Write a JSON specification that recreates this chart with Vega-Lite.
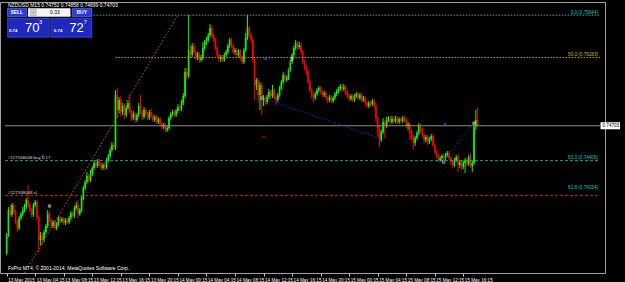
{
"$schema":"https://vega.github.io/schema/vega-lite/v6.json",
"width":605,"height":271,
"autosize":{"type":"none"},
"padding":{"left":0,"top":2,"right":20,"bottom":9},
"background":"#000000",
"config":{"view":{"stroke":"#a0a0a0","strokeWidth":1},"font":"Liberation Sans"},
"datasets":{
"candles":[
{"t":"2015-05-13T00:15","o":0.7362,"h":0.7379,"l":0.73603,"c":0.73773},
{"t":"2015-05-13T00:30","o":0.73773,"h":0.74011,"l":0.73756,"c":0.73986},
{"t":"2015-05-13T00:45","o":0.73986,"h":0.74028,"l":0.73926,"c":0.73943},
{"t":"2015-05-13T01:00","o":0.73943,"h":0.74046,"l":0.73926,"c":0.74028},
{"t":"2015-05-13T01:15","o":0.74028,"h":0.74046,"l":0.73952,"c":0.73969},
{"t":"2015-05-13T01:30","o":0.73969,"h":0.73986,"l":0.73867,"c":0.73884},
{"t":"2015-05-13T01:45","o":0.73884,"h":0.73901,"l":0.73799,"c":0.73833},
{"t":"2015-05-13T02:00","o":0.73833,"h":0.73935,"l":0.73816,"c":0.73918},
{"t":"2015-05-13T02:15","o":0.73918,"h":0.73969,"l":0.73901,"c":0.73952},
{"t":"2015-05-13T02:30","o":0.73952,"h":0.74011,"l":0.73935,"c":0.73986},
{"t":"2015-05-13T02:45","o":0.73986,"h":0.74037,"l":0.73969,"c":0.74011},
{"t":"2015-05-13T03:00","o":0.74011,"h":0.74088,"l":0.73994,"c":0.74071},
{"t":"2015-05-13T03:15","o":0.74071,"h":0.74199,"l":0.74011,"c":0.74028},
{"t":"2015-05-13T03:30","o":0.74028,"h":0.74046,"l":0.73969,"c":0.73986},
{"t":"2015-05-13T03:45","o":0.73986,"h":0.74003,"l":0.73926,"c":0.73943},
{"t":"2015-05-13T04:00","o":0.73943,"h":0.74046,"l":0.73926,"c":0.74028},
{"t":"2015-05-13T04:15","o":0.74028,"h":0.74071,"l":0.74011,"c":0.74054},
{"t":"2015-05-13T04:30","o":0.74054,"h":0.74071,"l":0.73901,"c":0.73918},
{"t":"2015-05-13T04:45","o":0.73918,"h":0.73935,"l":0.73628,"c":0.73731},
{"t":"2015-05-13T05:00","o":0.73731,"h":0.73799,"l":0.73688,"c":0.73765},
{"t":"2015-05-13T05:15","o":0.73765,"h":0.7379,"l":0.73688,"c":0.73731},
{"t":"2015-05-13T05:30","o":0.73731,"h":0.73816,"l":0.73714,"c":0.73799},
{"t":"2015-05-13T05:45","o":0.73799,"h":0.73867,"l":0.73782,"c":0.7385},
{"t":"2015-05-13T06:00","o":0.7385,"h":0.73986,"l":0.73833,"c":0.73952},
{"t":"2015-05-13T06:15","o":0.73952,"h":0.73969,"l":0.73884,"c":0.73901},
{"t":"2015-05-13T06:30","o":0.73901,"h":0.73918,"l":0.73833,"c":0.7385},
{"t":"2015-05-13T06:45","o":0.7385,"h":0.73901,"l":0.73833,"c":0.73884},
{"t":"2015-05-13T07:00","o":0.73884,"h":0.73901,"l":0.73816,"c":0.73833},
{"t":"2015-05-13T07:15","o":0.73833,"h":0.73884,"l":0.73816,"c":0.73867},
{"t":"2015-05-13T07:30","o":0.73867,"h":0.73935,"l":0.7385,"c":0.73918},
{"t":"2015-05-13T07:45","o":0.73918,"h":0.73935,"l":0.73875,"c":0.73892},
{"t":"2015-05-13T08:00","o":0.73892,"h":0.73926,"l":0.73875,"c":0.73909},
{"t":"2015-05-13T08:15","o":0.73909,"h":0.73926,"l":0.73858,"c":0.73875},
{"t":"2015-05-13T08:30","o":0.73875,"h":0.73918,"l":0.73858,"c":0.73901},
{"t":"2015-05-13T08:45","o":0.73901,"h":0.73918,"l":0.73867,"c":0.73884},
{"t":"2015-05-13T09:00","o":0.73884,"h":0.73935,"l":0.73867,"c":0.73918},
{"t":"2015-05-13T09:15","o":0.73918,"h":0.73977,"l":0.73901,"c":0.7396},
{"t":"2015-05-13T09:30","o":0.7396,"h":0.73977,"l":0.73918,"c":0.73935},
{"t":"2015-05-13T09:45","o":0.73935,"h":0.7402,"l":0.73918,"c":0.74003},
{"t":"2015-05-13T10:00","o":0.74003,"h":0.74054,"l":0.73986,"c":0.74028},
{"t":"2015-05-13T10:15","o":0.74028,"h":0.74071,"l":0.73918,"c":0.73952},
{"t":"2015-05-13T10:30","o":0.73952,"h":0.74003,"l":0.73935,"c":0.73986},
{"t":"2015-05-13T10:45","o":0.73986,"h":0.74105,"l":0.73969,"c":0.74088},
{"t":"2015-05-13T11:00","o":0.74088,"h":0.7419,"l":0.74071,"c":0.74173},
{"t":"2015-05-13T11:15","o":0.74173,"h":0.74241,"l":0.74156,"c":0.74224},
{"t":"2015-05-13T11:30","o":0.74224,"h":0.74309,"l":0.74207,"c":0.74275},
{"t":"2015-05-13T11:45","o":0.74275,"h":0.74292,"l":0.74216,"c":0.74241},
{"t":"2015-05-13T12:00","o":0.74241,"h":0.74326,"l":0.74224,"c":0.74292},
{"t":"2015-05-13T12:15","o":0.74292,"h":0.7436,"l":0.74275,"c":0.74343},
{"t":"2015-05-13T12:30","o":0.74343,"h":0.74411,"l":0.74326,"c":0.74386},
{"t":"2015-05-13T12:45","o":0.74386,"h":0.74403,"l":0.74343,"c":0.7436},
{"t":"2015-05-13T13:00","o":0.7436,"h":0.7442,"l":0.74343,"c":0.74403},
{"t":"2015-05-13T13:15","o":0.74403,"h":0.7442,"l":0.7436,"c":0.74377},
{"t":"2015-05-13T13:30","o":0.74377,"h":0.74394,"l":0.74326,"c":0.74343},
{"t":"2015-05-13T13:45","o":0.74343,"h":0.74386,"l":0.74326,"c":0.74369},
{"t":"2015-05-13T14:00","o":0.74369,"h":0.74394,"l":0.74326,"c":0.74352},
{"t":"2015-05-13T14:15","o":0.74352,"h":0.74428,"l":0.74335,"c":0.74411},
{"t":"2015-05-13T14:30","o":0.74411,"h":0.74463,"l":0.74394,"c":0.74445},
{"t":"2015-05-13T14:45","o":0.74445,"h":0.74514,"l":0.74428,"c":0.74497},
{"t":"2015-05-13T15:00","o":0.74497,"h":0.74565,"l":0.7448,"c":0.74539},
{"t":"2015-05-13T15:15","o":0.74539,"h":0.74556,"l":0.74497,"c":0.74514},
{"t":"2015-05-13T15:30","o":0.74514,"h":0.75007,"l":0.74497,"c":0.74965},
{"t":"2015-05-13T15:45","o":0.74965,"h":0.75024,"l":0.74769,"c":0.74837},
{"t":"2015-05-13T16:00","o":0.74837,"h":0.74948,"l":0.74811,"c":0.74922},
{"t":"2015-05-13T16:15","o":0.74922,"h":0.74956,"l":0.74786,"c":0.7482},
{"t":"2015-05-13T16:30","o":0.7482,"h":0.74897,"l":0.74794,"c":0.74871},
{"t":"2015-05-13T16:45","o":0.74871,"h":0.74888,"l":0.7476,"c":0.74794},
{"t":"2015-05-13T17:00","o":0.74794,"h":0.74879,"l":0.74777,"c":0.74854},
{"t":"2015-05-13T17:15","o":0.74854,"h":0.74922,"l":0.74837,"c":0.74897},
{"t":"2015-05-13T17:30","o":0.74897,"h":0.74965,"l":0.74803,"c":0.7482},
{"t":"2015-05-13T17:45","o":0.7482,"h":0.74837,"l":0.74743,"c":0.74769},
{"t":"2015-05-13T18:00","o":0.74769,"h":0.74828,"l":0.74752,"c":0.74803},
{"t":"2015-05-13T18:15","o":0.74803,"h":0.7482,"l":0.74726,"c":0.74752},
{"t":"2015-05-13T18:30","o":0.74752,"h":0.74811,"l":0.74735,"c":0.74794},
{"t":"2015-05-13T18:45","o":0.74794,"h":0.74897,"l":0.74777,"c":0.74871},
{"t":"2015-05-13T19:00","o":0.74871,"h":0.74965,"l":0.74803,"c":0.7482},
{"t":"2015-05-13T19:15","o":0.7482,"h":0.74837,"l":0.74752,"c":0.74777},
{"t":"2015-05-13T19:30","o":0.74777,"h":0.74862,"l":0.7476,"c":0.74837},
{"t":"2015-05-13T19:45","o":0.74837,"h":0.74854,"l":0.74786,"c":0.74803},
{"t":"2015-05-13T20:00","o":0.74803,"h":0.7482,"l":0.74752,"c":0.74769},
{"t":"2015-05-13T20:15","o":0.74769,"h":0.74837,"l":0.74752,"c":0.7482},
{"t":"2015-05-13T20:30","o":0.7482,"h":0.74845,"l":0.74769,"c":0.74786},
{"t":"2015-05-13T20:45","o":0.74786,"h":0.74803,"l":0.74735,"c":0.74752},
{"t":"2015-05-13T21:00","o":0.74752,"h":0.74794,"l":0.74735,"c":0.74777},
{"t":"2015-05-13T21:15","o":0.74777,"h":0.74794,"l":0.74718,"c":0.74735},
{"t":"2015-05-13T21:30","o":0.74735,"h":0.74777,"l":0.74718,"c":0.7476},
{"t":"2015-05-13T21:45","o":0.7476,"h":0.74777,"l":0.74701,"c":0.74718},
{"t":"2015-05-13T22:00","o":0.74718,"h":0.74735,"l":0.74675,"c":0.74692},
{"t":"2015-05-13T22:15","o":0.74692,"h":0.74726,"l":0.74675,"c":0.74709},
{"t":"2015-05-13T22:30","o":0.74709,"h":0.74726,"l":0.7465,"c":0.74667},
{"t":"2015-05-13T22:45","o":0.74667,"h":0.74701,"l":0.7465,"c":0.74684},
{"t":"2015-05-13T23:00","o":0.74684,"h":0.74786,"l":0.74667,"c":0.74769},
{"t":"2015-05-13T23:15","o":0.74769,"h":0.7482,"l":0.74752,"c":0.74803},
{"t":"2015-05-13T23:30","o":0.74803,"h":0.74837,"l":0.74786,"c":0.7482},
{"t":"2015-05-13T23:45","o":0.7482,"h":0.74837,"l":0.74777,"c":0.74794},
{"t":"2015-05-14T00:00","o":0.74794,"h":0.74845,"l":0.74777,"c":0.74828},
{"t":"2015-05-14T00:15","o":0.74828,"h":0.74888,"l":0.74811,"c":0.74862},
{"t":"2015-05-14T00:30","o":0.74862,"h":0.74879,"l":0.74828,"c":0.74845},
{"t":"2015-05-14T00:45","o":0.74845,"h":0.74922,"l":0.74828,"c":0.74897},
{"t":"2015-05-14T01:00","o":0.74897,"h":0.74982,"l":0.74879,"c":0.74956},
{"t":"2015-05-14T01:15","o":0.74956,"h":0.75194,"l":0.74939,"c":0.7516},
{"t":"2015-05-14T01:30","o":0.7516,"h":0.75194,"l":0.75092,"c":0.75126},
{"t":"2015-05-14T01:45","o":0.75126,"h":0.75645,"l":0.75109,"c":0.75348},
{"t":"2015-05-14T02:00","o":0.75348,"h":0.7539,"l":0.75279,"c":0.75305},
{"t":"2015-05-14T02:15","o":0.75305,"h":0.75407,"l":0.75288,"c":0.75382},
{"t":"2015-05-14T02:30","o":0.75382,"h":0.75407,"l":0.75313,"c":0.75331},
{"t":"2015-05-14T02:45","o":0.75331,"h":0.75348,"l":0.75262,"c":0.75279},
{"t":"2015-05-14T03:00","o":0.75279,"h":0.75331,"l":0.75262,"c":0.75313},
{"t":"2015-05-14T03:15","o":0.75313,"h":0.75331,"l":0.75237,"c":0.75262},
{"t":"2015-05-14T03:30","o":0.75262,"h":0.75305,"l":0.75245,"c":0.75279},
{"t":"2015-05-14T03:45","o":0.75279,"h":0.75416,"l":0.75262,"c":0.75365},
{"t":"2015-05-14T04:00","o":0.75365,"h":0.75433,"l":0.75348,"c":0.75416},
{"t":"2015-05-14T04:15","o":0.75416,"h":0.75458,"l":0.7539,"c":0.75433},
{"t":"2015-05-14T04:30","o":0.75433,"h":0.75492,"l":0.75416,"c":0.75475},
{"t":"2015-05-14T04:45","o":0.75475,"h":0.75569,"l":0.75458,"c":0.75535},
{"t":"2015-05-14T05:00","o":0.75535,"h":0.7556,"l":0.7545,"c":0.75467},
{"t":"2015-05-14T05:15","o":0.75467,"h":0.75484,"l":0.75416,"c":0.75433},
{"t":"2015-05-14T05:30","o":0.75433,"h":0.7545,"l":0.75348,"c":0.75365},
{"t":"2015-05-14T05:45","o":0.75365,"h":0.75382,"l":0.75288,"c":0.75305},
{"t":"2015-05-14T06:00","o":0.75305,"h":0.75322,"l":0.75254,"c":0.75271},
{"t":"2015-05-14T06:15","o":0.75271,"h":0.75305,"l":0.75245,"c":0.75288},
{"t":"2015-05-14T06:30","o":0.75288,"h":0.75305,"l":0.75245,"c":0.75262},
{"t":"2015-05-14T06:45","o":0.75262,"h":0.75322,"l":0.75245,"c":0.75305},
{"t":"2015-05-14T07:00","o":0.75305,"h":0.75348,"l":0.75288,"c":0.75331},
{"t":"2015-05-14T07:15","o":0.75331,"h":0.75399,"l":0.75313,"c":0.75382},
{"t":"2015-05-14T07:30","o":0.75382,"h":0.7545,"l":0.75365,"c":0.75433},
{"t":"2015-05-14T07:45","o":0.75433,"h":0.7545,"l":0.75365,"c":0.75382},
{"t":"2015-05-14T08:00","o":0.75382,"h":0.75399,"l":0.75313,"c":0.75331},
{"t":"2015-05-14T08:15","o":0.75331,"h":0.75365,"l":0.75305,"c":0.75348},
{"t":"2015-05-14T08:30","o":0.75348,"h":0.75365,"l":0.75288,"c":0.75305},
{"t":"2015-05-14T08:45","o":0.75305,"h":0.75356,"l":0.75288,"c":0.75339},
{"t":"2015-05-14T09:00","o":0.75339,"h":0.75356,"l":0.75262,"c":0.75279},
{"t":"2015-05-14T09:15","o":0.75279,"h":0.75296,"l":0.75228,"c":0.75245},
{"t":"2015-05-14T09:30","o":0.75245,"h":0.75365,"l":0.75228,"c":0.75348},
{"t":"2015-05-14T09:45","o":0.75348,"h":0.75492,"l":0.75331,"c":0.7545},
{"t":"2015-05-14T10:00","o":0.7545,"h":0.75645,"l":0.75433,"c":0.75535},
{"t":"2015-05-14T10:15","o":0.75535,"h":0.75552,"l":0.75458,"c":0.75475},
{"t":"2015-05-14T10:30","o":0.75475,"h":0.75492,"l":0.75407,"c":0.75433},
{"t":"2015-05-14T10:45","o":0.75433,"h":0.7545,"l":0.75237,"c":0.75262},
{"t":"2015-05-14T11:00","o":0.75262,"h":0.75279,"l":0.74922,"c":0.7505},
{"t":"2015-05-14T11:15","o":0.7505,"h":0.75109,"l":0.75007,"c":0.75092},
{"t":"2015-05-14T11:30","o":0.75092,"h":0.75109,"l":0.74905,"c":0.74965},
{"t":"2015-05-14T11:45","o":0.74965,"h":0.75075,"l":0.74837,"c":0.7505},
{"t":"2015-05-14T12:00","o":0.7505,"h":0.75067,"l":0.74794,"c":0.74922},
{"t":"2015-05-14T12:15","o":0.74922,"h":0.74965,"l":0.74871,"c":0.74939},
{"t":"2015-05-14T12:30","o":0.74939,"h":0.74956,"l":0.74879,"c":0.74905},
{"t":"2015-05-14T12:45","o":0.74905,"h":0.74965,"l":0.74888,"c":0.74948},
{"t":"2015-05-14T13:00","o":0.74948,"h":0.75016,"l":0.74931,"c":0.7499},
{"t":"2015-05-14T13:15","o":0.7499,"h":0.75007,"l":0.74931,"c":0.74956},
{"t":"2015-05-14T13:30","o":0.74956,"h":0.7505,"l":0.74939,"c":0.75007},
{"t":"2015-05-14T13:45","o":0.75007,"h":0.75024,"l":0.74931,"c":0.74948},
{"t":"2015-05-14T14:00","o":0.74948,"h":0.74965,"l":0.74879,"c":0.74922},
{"t":"2015-05-14T14:15","o":0.74922,"h":0.74982,"l":0.74905,"c":0.74965},
{"t":"2015-05-14T14:30","o":0.74965,"h":0.75041,"l":0.74948,"c":0.75024},
{"t":"2015-05-14T14:45","o":0.75024,"h":0.75092,"l":0.75007,"c":0.75075},
{"t":"2015-05-14T15:00","o":0.75075,"h":0.7516,"l":0.75058,"c":0.75135},
{"t":"2015-05-14T15:15","o":0.75135,"h":0.75152,"l":0.75075,"c":0.75092},
{"t":"2015-05-14T15:30","o":0.75092,"h":0.75135,"l":0.75075,"c":0.75118},
{"t":"2015-05-14T15:45","o":0.75118,"h":0.75194,"l":0.75092,"c":0.75177},
{"t":"2015-05-14T16:00","o":0.75177,"h":0.75262,"l":0.7516,"c":0.75245},
{"t":"2015-05-14T16:15","o":0.75245,"h":0.75322,"l":0.75228,"c":0.75305},
{"t":"2015-05-14T16:30","o":0.75305,"h":0.75382,"l":0.75288,"c":0.75365},
{"t":"2015-05-14T16:45","o":0.75365,"h":0.75433,"l":0.75348,"c":0.75407},
{"t":"2015-05-14T17:00","o":0.75407,"h":0.75424,"l":0.75348,"c":0.75373},
{"t":"2015-05-14T17:15","o":0.75373,"h":0.75416,"l":0.75356,"c":0.7539},
{"t":"2015-05-14T17:30","o":0.7539,"h":0.75407,"l":0.75313,"c":0.75331},
{"t":"2015-05-14T17:45","o":0.75331,"h":0.75348,"l":0.75228,"c":0.75245},
{"t":"2015-05-14T18:00","o":0.75245,"h":0.75262,"l":0.75177,"c":0.75194},
{"t":"2015-05-14T18:15","o":0.75194,"h":0.7522,"l":0.75135,"c":0.7516},
{"t":"2015-05-14T18:30","o":0.7516,"h":0.75177,"l":0.75058,"c":0.75075},
{"t":"2015-05-14T18:45","o":0.75075,"h":0.75092,"l":0.7499,"c":0.75007},
{"t":"2015-05-14T19:00","o":0.75007,"h":0.75024,"l":0.74939,"c":0.74965},
{"t":"2015-05-14T19:15","o":0.74965,"h":0.74982,"l":0.74905,"c":0.74939},
{"t":"2015-05-14T19:30","o":0.74939,"h":0.7499,"l":0.74922,"c":0.74973},
{"t":"2015-05-14T19:45","o":0.74973,"h":0.75024,"l":0.74956,"c":0.75007},
{"t":"2015-05-14T20:00","o":0.75007,"h":0.75041,"l":0.7499,"c":0.75024},
{"t":"2015-05-14T20:15","o":0.75024,"h":0.75041,"l":0.74973,"c":0.7499},
{"t":"2015-05-14T20:30","o":0.7499,"h":0.75007,"l":0.74948,"c":0.74965},
{"t":"2015-05-14T20:45","o":0.74965,"h":0.74999,"l":0.74948,"c":0.74982},
{"t":"2015-05-14T21:00","o":0.74982,"h":0.74999,"l":0.74922,"c":0.74939},
{"t":"2015-05-14T21:15","o":0.74939,"h":0.74956,"l":0.74897,"c":0.74922},
{"t":"2015-05-14T21:30","o":0.74922,"h":0.74965,"l":0.74905,"c":0.74948},
{"t":"2015-05-14T21:45","o":0.74948,"h":0.74965,"l":0.74897,"c":0.74914},
{"t":"2015-05-14T22:00","o":0.74914,"h":0.74956,"l":0.74897,"c":0.74939},
{"t":"2015-05-14T22:15","o":0.74939,"h":0.7499,"l":0.74922,"c":0.74973},
{"t":"2015-05-14T22:30","o":0.74973,"h":0.75016,"l":0.74956,"c":0.74999},
{"t":"2015-05-14T22:45","o":0.74999,"h":0.75033,"l":0.74982,"c":0.75016},
{"t":"2015-05-14T23:00","o":0.75016,"h":0.75058,"l":0.74999,"c":0.75041},
{"t":"2015-05-14T23:15","o":0.75041,"h":0.75058,"l":0.74999,"c":0.75016},
{"t":"2015-05-14T23:30","o":0.75016,"h":0.75058,"l":0.74999,"c":0.75033},
{"t":"2015-05-14T23:45","o":0.75033,"h":0.7505,"l":0.74965,"c":0.74982},
{"t":"2015-05-15T00:00","o":0.74982,"h":0.74999,"l":0.74939,"c":0.74956},
{"t":"2015-05-15T00:15","o":0.74956,"h":0.74973,"l":0.74914,"c":0.74931},
{"t":"2015-05-15T00:30","o":0.74931,"h":0.74973,"l":0.74914,"c":0.74956},
{"t":"2015-05-15T00:45","o":0.74956,"h":0.74973,"l":0.74905,"c":0.74922},
{"t":"2015-05-15T01:00","o":0.74922,"h":0.74973,"l":0.74905,"c":0.74956},
{"t":"2015-05-15T01:15","o":0.74956,"h":0.7499,"l":0.74939,"c":0.74973},
{"t":"2015-05-15T01:30","o":0.74973,"h":0.7499,"l":0.74922,"c":0.74939},
{"t":"2015-05-15T01:45","o":0.74939,"h":0.74982,"l":0.74922,"c":0.74965},
{"t":"2015-05-15T02:00","o":0.74965,"h":0.74982,"l":0.74905,"c":0.74922},
{"t":"2015-05-15T02:15","o":0.74922,"h":0.74956,"l":0.74905,"c":0.74939},
{"t":"2015-05-15T02:30","o":0.74939,"h":0.74956,"l":0.74879,"c":0.74897},
{"t":"2015-05-15T02:45","o":0.74897,"h":0.74914,"l":0.74854,"c":0.74871},
{"t":"2015-05-15T03:00","o":0.74871,"h":0.74914,"l":0.74854,"c":0.74897},
{"t":"2015-05-15T03:15","o":0.74897,"h":0.74914,"l":0.74862,"c":0.74888},
{"t":"2015-05-15T03:30","o":0.74888,"h":0.74931,"l":0.74871,"c":0.74914},
{"t":"2015-05-15T03:45","o":0.74914,"h":0.74931,"l":0.74854,"c":0.74871},
{"t":"2015-05-15T04:00","o":0.74871,"h":0.74897,"l":0.74735,"c":0.74769},
{"t":"2015-05-15T04:15","o":0.74769,"h":0.74786,"l":0.74607,"c":0.74684},
{"t":"2015-05-15T04:30","o":0.74684,"h":0.74701,"l":0.74522,"c":0.74582},
{"t":"2015-05-15T04:45","o":0.74582,"h":0.74667,"l":0.74565,"c":0.7465},
{"t":"2015-05-15T05:00","o":0.7465,"h":0.74769,"l":0.74633,"c":0.74735},
{"t":"2015-05-15T05:15","o":0.74735,"h":0.74752,"l":0.74599,"c":0.74701},
{"t":"2015-05-15T05:30","o":0.74701,"h":0.74777,"l":0.74684,"c":0.74752},
{"t":"2015-05-15T05:45","o":0.74752,"h":0.74786,"l":0.74735,"c":0.74769},
{"t":"2015-05-15T06:00","o":0.74769,"h":0.74786,"l":0.74718,"c":0.74735},
{"t":"2015-05-15T06:15","o":0.74735,"h":0.74786,"l":0.74718,"c":0.7476},
{"t":"2015-05-15T06:30","o":0.7476,"h":0.74777,"l":0.74726,"c":0.74743},
{"t":"2015-05-15T06:45","o":0.74743,"h":0.74786,"l":0.74726,"c":0.74769},
{"t":"2015-05-15T07:00","o":0.74769,"h":0.74786,"l":0.74718,"c":0.74735},
{"t":"2015-05-15T07:15","o":0.74735,"h":0.74777,"l":0.74718,"c":0.7476},
{"t":"2015-05-15T07:30","o":0.7476,"h":0.74777,"l":0.74726,"c":0.74743},
{"t":"2015-05-15T07:45","o":0.74743,"h":0.74786,"l":0.74726,"c":0.74769},
{"t":"2015-05-15T08:00","o":0.74769,"h":0.74786,"l":0.74735,"c":0.74752},
{"t":"2015-05-15T08:15","o":0.74752,"h":0.74769,"l":0.74684,"c":0.74701},
{"t":"2015-05-15T08:30","o":0.74701,"h":0.74735,"l":0.74667,"c":0.74718},
{"t":"2015-05-15T08:45","o":0.74718,"h":0.74735,"l":0.74582,"c":0.7465},
{"t":"2015-05-15T09:00","o":0.7465,"h":0.74667,"l":0.74582,"c":0.74607},
{"t":"2015-05-15T09:15","o":0.74607,"h":0.74624,"l":0.74505,"c":0.74556},
{"t":"2015-05-15T09:30","o":0.74556,"h":0.74616,"l":0.74531,"c":0.74599},
{"t":"2015-05-15T09:45","o":0.74599,"h":0.74658,"l":0.74582,"c":0.74641},
{"t":"2015-05-15T10:00","o":0.74641,"h":0.74726,"l":0.74624,"c":0.74701},
{"t":"2015-05-15T10:15","o":0.74701,"h":0.74718,"l":0.7465,"c":0.74667},
{"t":"2015-05-15T10:30","o":0.74667,"h":0.74684,"l":0.74599,"c":0.74624},
{"t":"2015-05-15T10:45","o":0.74624,"h":0.74641,"l":0.74556,"c":0.74582},
{"t":"2015-05-15T11:00","o":0.74582,"h":0.74624,"l":0.74565,"c":0.74607},
{"t":"2015-05-15T11:15","o":0.74607,"h":0.74624,"l":0.74539,"c":0.74565},
{"t":"2015-05-15T11:30","o":0.74565,"h":0.74607,"l":0.74548,"c":0.7459},
{"t":"2015-05-15T11:45","o":0.7459,"h":0.74633,"l":0.74573,"c":0.74616},
{"t":"2015-05-15T12:00","o":0.74616,"h":0.74633,"l":0.74522,"c":0.74539},
{"t":"2015-05-15T12:15","o":0.74539,"h":0.74556,"l":0.74463,"c":0.7448},
{"t":"2015-05-15T12:30","o":0.7448,"h":0.74497,"l":0.74428,"c":0.74445},
{"t":"2015-05-15T12:45","o":0.74445,"h":0.74463,"l":0.74394,"c":0.74411},
{"t":"2015-05-15T13:00","o":0.74411,"h":0.74445,"l":0.74394,"c":0.74428},
{"t":"2015-05-15T13:15","o":0.74428,"h":0.74463,"l":0.74403,"c":0.74445},
{"t":"2015-05-15T13:30","o":0.74445,"h":0.74463,"l":0.74411,"c":0.74428},
{"t":"2015-05-15T13:45","o":0.74428,"h":0.74471,"l":0.74411,"c":0.74454},
{"t":"2015-05-15T14:00","o":0.74454,"h":0.74488,"l":0.74437,"c":0.74471},
{"t":"2015-05-15T14:15","o":0.74471,"h":0.74488,"l":0.74411,"c":0.74428},
{"t":"2015-05-15T14:30","o":0.74428,"h":0.74445,"l":0.74369,"c":0.74394},
{"t":"2015-05-15T14:45","o":0.74394,"h":0.74411,"l":0.74343,"c":0.74369},
{"t":"2015-05-15T15:00","o":0.74369,"h":0.74428,"l":0.74352,"c":0.74411},
{"t":"2015-05-15T15:15","o":0.74411,"h":0.74454,"l":0.74394,"c":0.74437},
{"t":"2015-05-15T15:30","o":0.74437,"h":0.74463,"l":0.74309,"c":0.74369},
{"t":"2015-05-15T15:45","o":0.74369,"h":0.74411,"l":0.74343,"c":0.74394},
{"t":"2015-05-15T16:00","o":0.74394,"h":0.74411,"l":0.74326,"c":0.74352},
{"t":"2015-05-15T16:15","o":0.74352,"h":0.74403,"l":0.74335,"c":0.74386},
{"t":"2015-05-15T16:30","o":0.74386,"h":0.74428,"l":0.74301,"c":0.74411},
{"t":"2015-05-15T16:45","o":0.74411,"h":0.74428,"l":0.7436,"c":0.74377},
{"t":"2015-05-15T17:00","o":0.74377,"h":0.74454,"l":0.7436,"c":0.74437},
{"t":"2015-05-15T17:15","o":0.74437,"h":0.74471,"l":0.74343,"c":0.7436},
{"t":"2015-05-15T17:30","o":0.7436,"h":0.74403,"l":0.74309,"c":0.74386},
{"t":"2015-05-15T17:45","o":0.74386,"h":0.74718,"l":0.74369,"c":0.74692},
{"t":"2015-05-15T18:00","o":0.74692,"h":0.74837,"l":0.74667,"c":0.74752},
{"t":"2015-05-15T18:15","o":0.74752,"h":0.74858,"l":0.74699,"c":0.74703}
]
},
"encoding":{
"x":{"field":"t","type":"temporal","title":null,
 "scale":{"domain":[{"year":2015,"month":5,"date":13,"hours":0,"minutes":1},{"year":2015,"month":5,"date":16,"hours":11,"minutes":24}]},
 "axis":{"values":[
  {"year":2015,"month":5,"date":13,"hours":0,"minutes":15},{"year":2015,"month":5,"date":13,"hours":4,"minutes":15},{"year":2015,"month":5,"date":13,"hours":8,"minutes":15},{"year":2015,"month":5,"date":13,"hours":12,"minutes":15},{"year":2015,"month":5,"date":13,"hours":16,"minutes":15},{"year":2015,"month":5,"date":13,"hours":20,"minutes":15},
  {"year":2015,"month":5,"date":14,"hours":0,"minutes":15},{"year":2015,"month":5,"date":14,"hours":4,"minutes":15},{"year":2015,"month":5,"date":14,"hours":8,"minutes":15},{"year":2015,"month":5,"date":14,"hours":12,"minutes":15},{"year":2015,"month":5,"date":14,"hours":16,"minutes":15},{"year":2015,"month":5,"date":14,"hours":20,"minutes":15},
  {"year":2015,"month":5,"date":15,"hours":0,"minutes":15},{"year":2015,"month":5,"date":15,"hours":4,"minutes":15},{"year":2015,"month":5,"date":15,"hours":8,"minutes":15},{"year":2015,"month":5,"date":15,"hours":12,"minutes":15},{"year":2015,"month":5,"date":15,"hours":16,"minutes":15}],
  "labelExpr":"datum.value < datetime(2015,4,13,1,0) ? '13 May 2015' : timeFormat(datum.value, '%d %b %H:%M')",
  "labelAlign":"left","labelBaseline":"top","labelFontSize":4.6,"labelColor":"#ffffff","labelPadding":1,"labelOffset":1,
  "tickColor":"#c0c0c0","tickSize":3,"domain":false,"grid":false,"labelOverlap":false,"labelFlush":false,"labelBound":false}},
"y":{"field":"p","type":"quantitative","title":null,
 "scale":{"domain":[0.7345,0.75756],"zero":false,"nice":false},
 "axis":{"orient":"right","values":[0.7346,0.7359,0.7372,0.7385,0.7398,0.7411,0.7424,0.7437,0.745,0.7463,0.7476,0.7489,0.7502,0.7515,0.7528,0.75405,0.75535,0.75665],
  "format":".5f","labelFontSize":4.6,"labelColor":"#ffffff","tickColor":"#c0c0c0","tickSize":2,"labelPadding":1,
  "domain":false,"grid":false,"labelOverlap":false,"labelFlush":false,"labelBound":false}}
},
"layer":[
{"data":{"name":"candles"},"mark":{"type":"rule","strokeWidth":1},
 "encoding":{"y":{"field":"l","type":"quantitative","axis":null},"y2":{"field":"h"},
  "color":{"condition":{"test":"datum.c >= datum.o","value":"#00ff00"},"value":"#ff0000"}}},
{"data":{"name":"candles"},"mark":{"type":"bar","size":1.6},
 "encoding":{"y":{"field":"o","type":"quantitative","axis":null},"y2":{"field":"c"},
  "color":{"condition":{"test":"datum.c >= datum.o","value":"#00ff00"},"value":"#ff0000"}}},
{"data":{"values":[{"t":"2015-05-13T02:45","p":0.7345},{"t":"2015-05-14T00:15","p":0.75644}]},
 "mark":{"type":"line","color":"#c84a3c","strokeDash":[1.5,2],"strokeWidth":1}},
{"data":{"values":[{"t":"2015-05-13T02:45","t2":"2015-05-16T11:24","p":0.75644}]},
 "mark":{"type":"rule","color":"#1ab4b4","strokeDash":[1.5,1.5],"strokeWidth":1},
 "encoding":{"x2":{"field":"t2"}}},
{"data":{"values":[{"t":"2015-05-13T15:30","t2":"2015-05-16T11:24","p":0.75283}]},
 "mark":{"type":"rule","color":"#b4a414","strokeDash":[1.5,1.5],"strokeWidth":1},
 "encoding":{"x2":{"field":"t2"}}},
{"data":{"values":[{"t":"2015-05-13T00:01","t2":"2015-05-16T11:24","p":0.74703}]},
 "mark":{"type":"rule","color":"#8c8c8c","strokeWidth":1.2},
 "encoding":{"x2":{"field":"t2"}}},
{"data":{"values":[{"t":"2015-05-13T00:01","t2":"2015-05-16T11:24","p":0.74406}]},
 "mark":{"type":"rule","color":"#1f9f8f","strokeDash":[3,2],"strokeWidth":1},
 "encoding":{"x2":{"field":"t2"}}},
{"data":{"values":[{"t":"2015-05-13T00:01","t2":"2015-05-16T11:24","p":0.7411}]},
 "mark":{"type":"rule","color":"#d01414","strokeDash":[3,2],"strokeWidth":1},
 "encoding":{"x2":{"field":"t2"}}},
{"data":{"values":[
 {"id":"a","t":"2015-05-14T12:00","p":0.74939},{"id":"a","t":"2015-05-15T04:00","p":0.74607},
 {"id":"b","t":"2015-05-14T14:15","p":0.74897},{"id":"b","t":"2015-05-14T16:15","p":0.75271},
 {"id":"c","t":"2015-05-15T13:30","p":0.74406},{"id":"c","t":"2015-05-15T17:45","p":0.74726}]},
 "mark":{"type":"line","color":"#2222d8","strokeDash":[1.5,2],"strokeWidth":1},
 "encoding":{"detail":{"field":"id"}}},
{"data":{"values":[
 {"t":"2015-05-14T12:15","t2":"2015-05-14T12:45","p":0.75271},
 {"t":"2015-05-15T13:30","t2":"2015-05-15T13:52","p":0.74718},
 {"t":"2015-05-13T05:06","t2":"2015-05-13T05:30","p":0.74445}]},
 "mark":{"type":"rule","color":"#2a3aff","strokeWidth":1.5},
 "encoding":{"x2":{"field":"t2"}}},
{"data":{"values":[
 {"t":"2015-05-14T12:00","t2":"2015-05-14T12:30","p":0.74607},
 {"t":"2015-05-13T05:06","t2":"2015-05-13T05:30","p":0.73509}]},
 "mark":{"type":"rule","color":"#b00000","strokeWidth":1.5},
 "encoding":{"x2":{"field":"t2"}}},
{"data":{"values":[{"t":"2015-05-14T12:00","p":0.74939},{"t":"2015-05-15T13:30","p":0.74394}]},
 "mark":{"type":"point","shape":"square","filled":true,"size":6,"color":"#3050ff","stroke":"#ffffff","strokeWidth":0.6}},
{"data":{"values":[{"t":"2015-05-14T16:15","p":0.75271},{"t":"2015-05-15T17:45","p":0.74726},{"t":"2015-05-13T06:15","p":0.7402}]},
 "mark":{"type":"point","shape":"square","filled":true,"size":6,"color":"#f0a030","stroke":"#ffffff","strokeWidth":0.6}},
{"data":{"values":[
 {"t":"2015-05-16T11:24","p":0.75644,"label":"0.0 (0.75644)"},
 {"t":"2015-05-16T11:24","p":0.74406,"label":"50.0 (0.74406)"},
 {"t":"2015-05-16T11:24","p":0.74154,"label":"61.8 (0.74154)"}]},
 "mark":{"type":"text","align":"right","baseline":"bottom","dx":-2,"dy":-0.5,"fontSize":4.6,"color":"#1ec8c8"},
 "encoding":{"text":{"field":"label"}}},
{"data":{"values":[{"t":"2015-05-16T11:24","p":0.75283,"label":"50.0 (0.75283)"}]},
 "mark":{"type":"text","align":"right","baseline":"bottom","dx":-2,"dy":-0.5,"fontSize":4.6,"color":"#c8b414"},
 "encoding":{"text":{"field":"label"}}},
{"data":{"values":[
 {"t":"2015-05-13T00:26","p":0.74406,"label":"#127558048 buy 0.17"},
 {"t":"2015-05-13T00:26","p":0.7411,"label":"#127558048 sl"}]},
 "mark":{"type":"text","align":"left","baseline":"bottom","dy":-0.5,"fontSize":4.4,"color":"#d8d8d8"},
 "encoding":{"text":{"field":"label"}}},
{"data":{"values":[
 {"t":"2015-05-13T00:26","p":0.7573,"label":"NZDUSD,M15  0.74752 0.74858 0.74699 0.74703"},
 {"t":"2015-05-13T00:26","p":0.73492,"label":"FxPro MT4, © 2001-2014, MetaQuotes Software Corp."}]},
 "mark":{"type":"text","align":"left","baseline":"middle","fontSize":5,"color":"#ffffff"},
 "encoding":{"text":{"field":"label"}}},
{"data":{"values":[
 {"t":"2015-05-13T00:22","t2":"2015-05-13T03:03","p":0.75631,"p2":0.75702},
 {"t":"2015-05-13T09:26","t2":"2015-05-13T12:11","p":0.75631,"p2":0.75702}]},
 "mark":{"type":"rect","fill":"#2a3ad6","stroke":"#8090ff","strokeWidth":0.5},
 "encoding":{"x2":{"field":"t2"},"y2":{"field":"p2"}}},
{"data":{"values":[{"t":"2015-05-13T03:15","t2":"2015-05-13T09:11","p":0.75631,"p2":0.75702}]},
 "mark":{"type":"rect","fill":"#f4f4f4"},
 "encoding":{"x2":{"field":"t2"},"y2":{"field":"p2"}}},
{"data":{"values":[{"t":"2015-05-13T03:36","t2":"2015-05-13T04:23","p":0.7564,"p2":0.75693}]},
 "mark":{"type":"rect","fill":"#d0d0d0","stroke":"#909090","strokeWidth":0.5},
 "encoding":{"x2":{"field":"t2"},"y2":{"field":"p2"}}},
{"data":{"values":[
 {"t":"2015-05-13T00:23","t2":"2015-05-13T06:13","p":0.75456,"p2":0.75617},
 {"t":"2015-05-13T06:27","t2":"2015-05-13T12:11","p":0.75456,"p2":0.75617}]},
 "mark":{"type":"rect","fill":"#1f27c0","stroke":"#6070ff","strokeWidth":0.5},
 "encoding":{"x2":{"field":"t2"},"y2":{"field":"p2"}}},
{"data":{"values":[
 {"t":"2015-05-13T01:40","p":0.75667,"label":"SELL"},
 {"t":"2015-05-13T10:46","p":0.75667,"label":"BUY"}]},
 "mark":{"type":"text","align":"center","baseline":"middle","fontSize":5,"fontWeight":"bold","color":"#ffffff"},
 "encoding":{"text":{"field":"label"}}},
{"data":{"values":[
 {"t":"2015-05-13T07:01","p":0.75667,"label":"0.33"},
 {"t":"2015-05-13T04:00","p":0.75667,"label":"-"}]},
 "mark":{"type":"text","align":"center","baseline":"middle","fontSize":5,"color":"#000000"},
 "encoding":{"text":{"field":"label"}}},
{"data":{"values":[
 {"t":"2015-05-13T01:10","p":0.75513,"label":"0.74"},
 {"t":"2015-05-13T07:27","p":0.75513,"label":"0.74"}]},
 "mark":{"type":"text","align":"center","baseline":"middle","fontSize":4.4,"fontWeight":"bold","color":"#ffffff"},
 "encoding":{"text":{"field":"label"}}},
{"data":{"values":[
 {"t":"2015-05-13T02:50","p":0.75535,"label":"70"},
 {"t":"2015-05-13T09:02","p":0.75535,"label":"72"}]},
 "mark":{"type":"text","align":"left","baseline":"middle","fontSize":13,"color":"#ffffff"},
 "encoding":{"text":{"field":"label"}}},
{"data":{"values":[
 {"t":"2015-05-13T04:46","p":0.75585,"label":"3"},
 {"t":"2015-05-13T11:03","p":0.75585,"label":"7"}]},
 "mark":{"type":"text","align":"left","baseline":"middle","fontSize":5.5,"color":"#ffffff"},
 "encoding":{"text":{"field":"label"}}},
{"data":{"values":[{"t":"2015-05-16T11:24","p":0.74673,"p2":0.74733}]},
 "mark":{"type":"rect","fill":"#ffffff","xOffset":0.5,"x2Offset":20},
 "encoding":{"x2":{"field":"t"},"y2":{"field":"p2"}}},
{"data":{"values":[{"t":"2015-05-16T11:24","p":0.74703,"label":"0.74703"}]},
 "mark":{"type":"text","align":"left","baseline":"middle","dx":2.5,"fontSize":4.6,"color":"#000000"},
 "encoding":{"text":{"field":"label"}}}
]
}
